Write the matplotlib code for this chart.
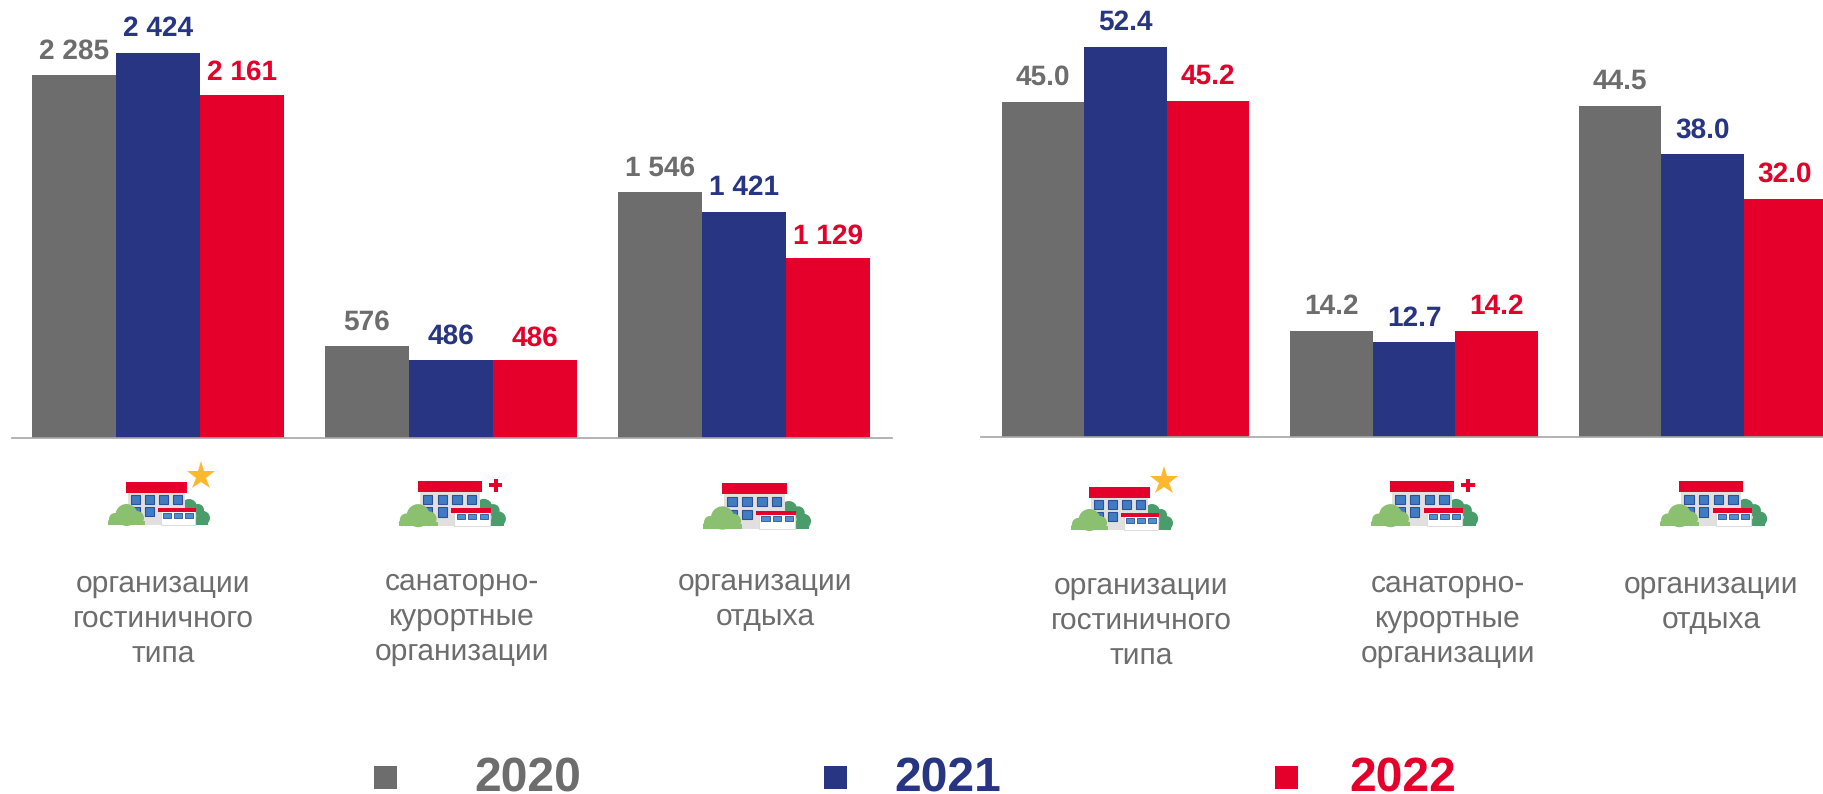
import matplotlib
matplotlib.use("Agg")
import matplotlib.pyplot as plt
from matplotlib.patches import Rectangle, Ellipse

W, H = 1824, 794

years = ["2020", "2021", "2022"]
colors = ["#6d6d6d", "#273582", "#e4002b"]

left_2020 = [2285, 576, 1546]
left_2021 = [2424, 486, 1421]
left_2022 = [2161, 486, 1129]
left_labels_2020 = ["2 285", "576", "1 546"]
left_labels_2021 = ["2 424", "486", "1 421"]
left_labels_2022 = ["2 161", "486", "1 129"]

right_2020 = [45.0, 14.2, 44.5]
right_2021 = [52.4, 12.7, 38.0]
right_2022 = [45.2, 14.2, 32.0]

categories = ["организации\nгостиничного\nтипа", "санаторно-\nкурортные\nорганизации", "организации\nотдыха"]

plt.rcParams['font.family'] = ['Liberation Sans', 'DejaVu Sans']
plt.rcParams['text.hinting'] = 'no_hinting'
plt.rcParams['text.hinting_factor'] = 1

fig = plt.figure(figsize=(W / 100, H / 100), dpi=100)

# оверлей в пикселях для значков и легенды
bg = fig.add_axes([0, 0, 1, 1])
bg.set_xlim(0, W)
bg.set_ylim(H, 0)
bg.axis("off")


def make_axes(x0, x1, base, center0, spacing, ymax):
    ax = fig.add_axes([x0 / W, 1 - base / H, (x1 - x0) / W, base / H])
    ax.set_xlim((x0 - center0) / spacing, (x1 - center0) / spacing)
    ax.set_ylim(0, ymax)
    ax.patch.set_alpha(0)
    for s in ["left", "right", "top"]:
        ax.spines[s].set_visible(False)
    ax.spines["bottom"].set_color("#a6a6a6")
    ax.spines["bottom"].set_linewidth(1.2)
    ax.set_yticks([])
    ax.set_xticks([])
    return ax


def draw_bars(ax, series, labels, width, gaps):
    for i, vals in enumerate(series):
        xs = [g + (i - 1) * width for g in range(3)]
        ax.bar(xs, vals, width=width, color=colors[i], linewidth=0)
        for x, v, t in zip(xs, vals, labels[i]):
            ax.annotate(t, (x, v), xytext=(0, gaps[i]), textcoords="offset pixels",
                        ha="center", va="bottom", fontsize=20.5, fontweight="bold",
                        color=colors[i], clip_on=False)


ax1 = make_axes(12, 892, 437.5, 158, 293, 2758)
draw_bars(ax1, [left_2020, left_2021, left_2022],
          [left_labels_2020, left_labels_2021, left_labels_2022], 84 / 293, [11, 11, 9])

ax2 = make_axes(981, 1824, 437, 1125.5, 288.5, 58.7)
draw_bars(ax2, [right_2020, right_2021, right_2022],
          [[f"{v:.1f}" for v in right_2020], [f"{v:.1f}" for v in right_2021],
           [f"{v:.1f}" for v in right_2022]], 82.5 / 288.5, [11, 11, 11])


def icon(x, y, kind, s=1.0):
    # x, y - левый верх красной крыши, s - масштаб
    def box(a, b, w, h, **kw):
        kw.setdefault("lw", 0)
        bg.add_patch(Rectangle((x + a * s, y + b * s), w * s, h * s, **kw))

    def blob(a, b, r, c):
        bg.add_patch(Ellipse((x + a * s, y + b * s), 2 * r * s, 2 * r * s, color=c, lw=0))

    # куст справа
    for a, b, r in [(63, 25, 8), (72, 28, 6), (77, 36, 7)]:
        blob(a, b, r, "#4a9c6a")
    box(59, 36, 23, 7, color="#4a9c6a")
    # здание
    box(2, 10, 57, 33, color="#e2e0df")
    for c in range(4):
        for r in range(2):
            if r == 1 and c > 1:
                continue
            box(5 + c * 14, 13 + r * 12, 9, 9, facecolor="#3f7cc0", edgecolor="#2e4f9a", lw=0.8)
    box(0, 0, 61, 10.5, color="#e4002b")
    # куст слева
    for a, b, r in [(0.5, 33, 11), (-11, 37, 6), (-15, 40, 3), (11, 36, 7)]:
        blob(a, b, r, "#8bc070")
    box(-18, 39, 37, 4, color="#8bc070")
    # пристройка
    box(35, 28, 34, 15, facecolor="white", edgecolor="#dddddd", lw=0.8)
    box(32, 26, 38, 4, color="#e4002b")
    for c in range(3):
        box(37 + c * 11, 31, 8, 5, facecolor="#4d8fd0", edgecolor="#2e4f9a", lw=0.6)
    if kind == "star":
        bg.plot(x + 75 * s, y - 6 * s, marker="*", ms=21, color="#fdb92e", mew=0)
    elif kind == "plus":
        box(68, 2, 12.5, 4, color="#e4002b")
        box(72.2, -2.2, 4, 12.5, color="#e4002b")


icon(126, 482, "star")
icon(417.7, 481, "plus", 1.05)
icon(722, 483, None, 1.06)
icon(1089, 487, "star")
icon(1390, 481, "plus", 1.05)
icon(1679, 481, None, 1.05)

cat_x_left = [163, 462, 765]
cat_y_left = [570, 568, 568]
cat_x_right = [1141, 1448, 1711]
cat_y_right = [572, 570, 571]
for xs, ys in [(cat_x_left, cat_y_left), (cat_x_right, cat_y_right)]:
    for x, y, t in zip(xs, ys, categories):
        bg.text(x, y, t, ha="center", va="top", fontsize=21.3, color="#6d6d6d", linespacing=1.33)

legend_sq = [386, 836, 1287]
legend_txt = [528, 948, 1403]
for sx, tx, y, c in zip(legend_sq, legend_txt, years, colors):
    bg.add_patch(Rectangle((sx - 11.5, 766), 23, 23, color=c, lw=0))
    bg.text(tx, 791, y, ha="center", va="baseline", fontsize=34.5, fontweight="bold", color=c)

fig.savefig("out.png", dpi=100)
